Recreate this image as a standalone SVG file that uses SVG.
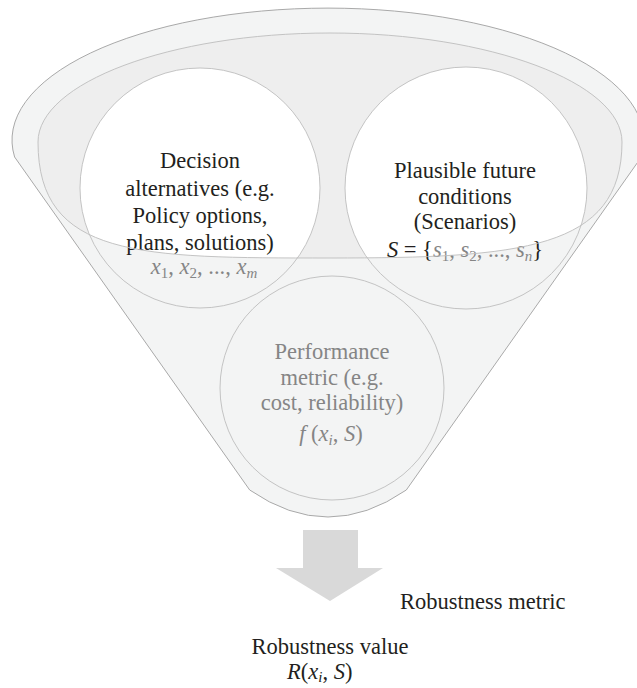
<svg xmlns="http://www.w3.org/2000/svg" width="637" height="688" viewBox="0 0 637 688">
<style>
.t{font-family:"Liberation Serif","Times New Roman",serif;font-size:22.5px;fill:#231f20}
.g{fill:#858585}
.i{font-style:italic}
.line{fill:none;stroke:#bdbdbd;stroke-width:0.9}
</style>
<defs>
<path id="inner" d="M38,142 C38,83 170,33 330,33 C490,33 622,83 622,142 C622,250 520,258 330,258 C140,258 38,258 38,142 Z"/>
<clipPath id="innerClip"><use href="#inner"/></clipPath>
</defs>
<g id="funnel">
<path d="M14.6,157 A316,132 0 1 1 641.4,157 L406.3,490 Q328,544 249.7,490 Z" fill="#f3f4f4" stroke="#a9a9a9" stroke-width="1"/>
<use href="#inner" fill="#eeeeee"/>
<g clip-path="url(#innerClip)">
<circle cx="200" cy="188" r="120" fill="#ffffff"/>
<circle cx="466" cy="188" r="121" fill="#ffffff"/>
</g>
</g>
<g id="node-decision">
<circle class="line" cx="200" cy="188" r="120"/>
<text class="t" text-anchor="middle"><tspan x="200" y="168">Decision</tspan><tspan x="200" y="196">alternatives (e.g.</tspan><tspan x="200" y="223">Policy options,</tspan><tspan x="200" y="250">plans, solutions)</tspan></text>
<text class="t g" x="204" y="274" text-anchor="middle"><tspan class="i">x</tspan><tspan font-size="15" dy="4">1</tspan><tspan dy="-4">, </tspan><tspan class="i">x</tspan><tspan font-size="15" dy="4">2</tspan><tspan dy="-4">, ..., </tspan><tspan class="i">x</tspan><tspan class="i" font-size="15" dy="4">m</tspan></text>
</g>
<g id="node-scenarios">
<circle class="line" cx="466" cy="188" r="121"/>
<text class="t" text-anchor="middle"><tspan x="465" y="178">Plausible future</tspan><tspan x="465" y="204">conditions</tspan><tspan x="465" y="229">(Scenarios)</tspan></text>
<text class="t" x="465" y="257" text-anchor="middle"><tspan class="i">S</tspan> = {<tspan class="i g">s</tspan><tspan class="g" font-size="15" dy="4">1</tspan><tspan class="g" dy="-4">, </tspan><tspan class="i g">s</tspan><tspan class="g" font-size="15" dy="4">2</tspan><tspan class="g" dy="-4">, ..., </tspan><tspan class="i g">s</tspan><tspan class="i g" font-size="15" dy="4">n</tspan><tspan dy="-4">}</tspan></text>
</g>
<use href="#inner" class="line" stroke="#a9a9a9"/>
<g id="node-performance">
<circle cx="332" cy="388" r="112" fill="#f3f4f4" stroke="#bdbdbd" stroke-width="0.9"/>
<text class="t g" text-anchor="middle"><tspan x="332" y="359">Performance</tspan><tspan x="332" y="385">metric (e.g.</tspan><tspan x="332" y="410">cost, reliability)</tspan></text>
<text class="t g" x="331" y="441" text-anchor="middle"><tspan class="i">f</tspan> (<tspan class="i">x</tspan><tspan class="i" font-size="15" dy="4">i</tspan><tspan dy="-4">, </tspan><tspan class="i">S</tspan>)</text>
</g>
<g id="connectors">
<polygon points="303,530 358,530 358,568 383,568 330,601 276,568 303,568" fill="#d9d9d9"/>
<text class="t" x="400" y="609" font-size="19.5">Robustness metric</text>
</g>
<g id="node-robustness">
<text class="t" x="330" y="654" text-anchor="middle">Robustness value</text>
<text class="t" x="287" y="679"><tspan class="i">R</tspan>(<tspan class="i">x</tspan><tspan class="i" font-size="15" dy="3">i</tspan><tspan dy="-3">, </tspan><tspan class="i">S</tspan>)</text>
</g>
</svg>
